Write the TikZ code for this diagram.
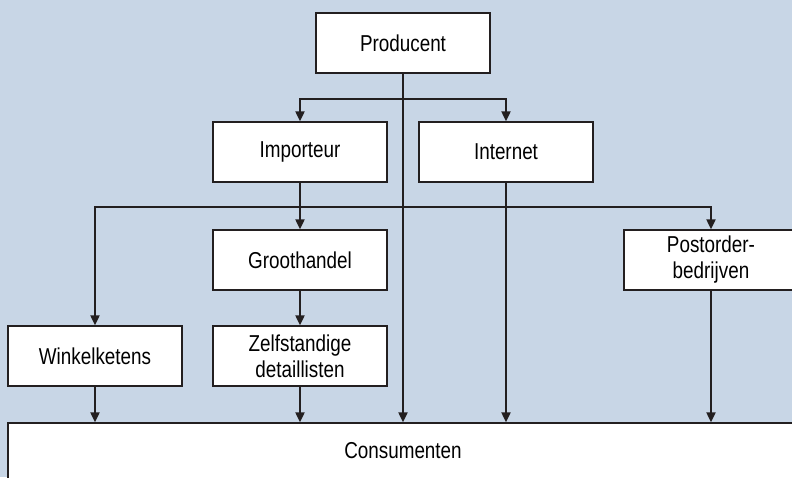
\documentclass[tikz,border=0pt]{standalone}
\usepackage{fontspec}
\setmainfont[FakeStretch=0.82]{Liberation Sans}
\usetikzlibrary{arrows.meta,calc}
\definecolor{bgblue}{RGB}{200,214,230}
\definecolor{linegray}{RGB}{35,31,32}

\begin{document}
\begin{tikzpicture}[x = 1pt, y = -1pt,
    box/.style = {draw = linegray, line width = 1.3pt, fill = white, minimum width = 174pt,
                  minimum height = 60pt, inner sep = 0pt, align = center,
                  font = \fontsize{23}{26}\selectfont},
    arr/.style = {draw = linegray, line width = 2pt, -{Triangle[width = 9pt, length = 10pt]}}]
      \useasboundingbox (0, 0) rectangle (792, 477);
      \fill[bgblue] (0, 0) rectangle (792, 477);
      \clip (0, 0) rectangle (792, 477);

      \node[box] at (403,  43) (prod)  {Producent};
      \node[box] at (300, 152) (imp)   {Importeur};
      \node[box] at (506, 152) (inet)  {Internet};
      \node[box] at (300, 260) (groot) {Groothandel};
      \node[box] at (711, 260) (post)  {Postorder-\\bedrijven};
      \node[box] at ( 95, 356) (wink)  {Winkelketens};
      \node[box] at (300, 356) (zelf)  {Zelfstandige\\detaillisten};
      \node[box, minimum width = 790pt, minimum height = 56pt] at (403, 451) (cons) {Consumenten};

      \coordinate (split1) at ($(prod.south) + (0, 25)$);
      \coordinate (split2) at ($(imp.south) + (0, 24)$);

      \draw[arr] (prod.south) -- (prod.south |- cons.north);
      \draw[arr] (split1) -| (imp.north);
      \draw[arr] (split1) -| (inet.north);
      \draw[arr] (imp) -- (groot);
      \draw[arr] (split2) -| (wink.north);
      \draw[arr] (split2) -| (post.north);
      \draw[arr] (groot) -- (zelf);
      \draw[arr] (wink) -- (wink |- cons.north);
      \draw[arr] (zelf) -- (zelf |- cons.north);
      \draw[arr] (inet) -- (inet |- cons.north);
      \draw[arr] (post) -- (post |- cons.north);
    \end{tikzpicture}
\end{document}
